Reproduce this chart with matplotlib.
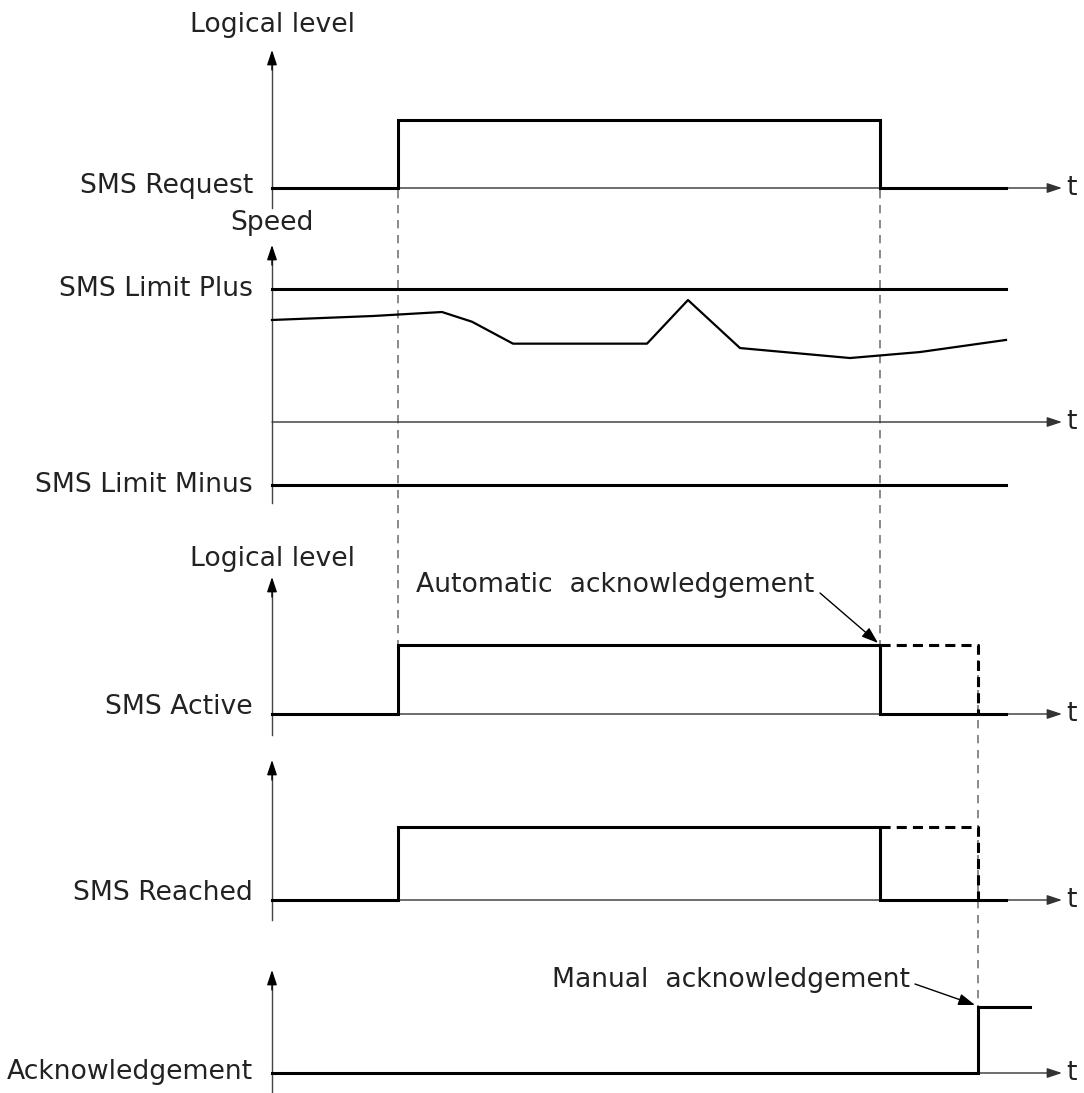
import numpy as np
import matplotlib
matplotlib.use("Agg")
import matplotlib.pyplot as plt

# ---- signal data (time in diagram units, level 0/1) ----
t_request = [272, 398, 398, 880, 880, 1006]
lvl_request = [0, 0, 1, 1, 0, 0]

t_active = [272, 398, 398, 880, 880, 1006]
lvl_active = [0, 0, 1, 1, 0, 0]
t_active_manual = [880, 978, 978]      # dashed: stays active until manual ack
lvl_active_manual = [1, 1, 0]

t_reached = [272, 398, 398, 880, 880, 1006]
lvl_reached = [0, 0, 1, 1, 0, 0]
t_reached_manual = [880, 978, 978]
lvl_reached_manual = [1, 1, 0]

t_ack = [272, 978, 978, 1030]
lvl_ack = [0, 0, 1, 1]

# speed profile (limit plus = 100)
t_speed = [272, 373, 442, 472, 513, 647, 688, 740, 850, 920, 1006]
v_speed = [76.7, 79.7, 82.7, 75.4, 58.9, 58.9, 91.7, 55.6, 48.1, 52.6, 61.7]
limit_plus = 100
limit_minus = -47.4

t_marks = [398, 880]   # request on / off
t_manual = 978

labels = ["SMS Request", "SMS Limit Plus", "SMS Limit Minus", "SMS Active",
          "SMS Reached", "Acknowledgement"]

# ---- layout (pixels) ----
W, H = 1084, 1093
x0, x_end, x_arrow = 272, 1006, 1062
base = {"req": 188, "speed": 422, "act": 714, "rch": 900, "ack": 1073}
high = {"req": 68, "act": 69, "rch": 73, "ack": 66}
speed_scale = 1.33
yaxes = [(50, 208), (245, 503), (577, 735), (760, 920), (970, 1093)]

plt.rcParams['font.family'] = ['DejaVu Sans']
fig = plt.figure(figsize=(W / 100, H / 100), dpi=100)
ax = fig.add_axes([0, 0, 1, 1])
ax.set_xlim(0, W)
ax.set_ylim(H, 0)
ax.axis('off')

sig_kw = dict(color='black', lw=2.2, solid_joinstyle='miter', zorder=3)
dash_kw = dict(color='black', lw=2.2, linestyle=(0, (3.3, 2)), zorder=3)
guide_kw = dict(color='#777777', lw=1.2, linestyle=(0, (5, 4)), zorder=1)
txt_kw = dict(fontsize=19.2, color='#222222')


def logic_y(levels, key):
    return base[key] - np.array(levels) * high[key]


def speed_y(v):
    return base["speed"] - np.array(v) * speed_scale


# y axes with arrow heads
for top, bottom in yaxes:
    ax.plot([x0, x0], [bottom, top + 10], color='#444444', lw=1.0, zorder=2)
    ax.annotate('', xy=(x0, top), xytext=(x0, top + 20),
                arrowprops=dict(arrowstyle='-|>,head_length=9,head_width=3',
                                mutation_scale=1, color='black', lw=1.0,
                                shrinkA=0, shrinkB=0))

# time axes
for key in ["req", "speed", "act", "rch", "ack"]:
    y = base[key]
    ax.annotate('', xy=(x_arrow, y), xytext=(x0, y),
                arrowprops=dict(arrowstyle='-|>,head_length=9,head_width=3',
                                mutation_scale=1, color='#333333', lw=1.0,
                                shrinkA=0, shrinkB=0), zorder=2)
    ax.text(x_arrow + 4, y, "t", ha='left', va='center', **txt_kw)

# guide lines
for t in t_marks:
    ax.plot([t, t], [base["req"] + 2, base["act"] - high["act"]], **guide_kw)
ax.plot([t_manual, t_manual], [base["act"] - high["act"], base["ack"] - high["ack"]], **guide_kw)

# signals
ax.plot(t_request, logic_y(lvl_request, "req"), **sig_kw)
ax.plot([x0, x_end], speed_y([limit_plus] * 2), **sig_kw)
ax.plot([x0, x_end], speed_y([limit_minus] * 2), **sig_kw)
ax.plot(t_speed, speed_y(v_speed), color='black', lw=1.6, zorder=3)
ax.plot(t_active, logic_y(lvl_active, "act"), **sig_kw)
ax.plot(t_active_manual, logic_y(lvl_active_manual, "act"), **dash_kw)
ax.plot(t_reached, logic_y(lvl_reached, "rch"), **sig_kw)
ax.plot(t_reached_manual, logic_y(lvl_reached_manual, "rch"), **dash_kw)
ax.plot(t_ack, logic_y(lvl_ack, "ack"), **sig_kw)

# labels
lx = 253
ax.text(272, 25, "Logical level", ha='center', va='center', **txt_kw)
ax.text(230, 223, "Speed", ha='left', va='center', **txt_kw)
ax.text(272, 559, "Logical level", ha='center', va='center', **txt_kw)
label_y = [186, 289, 485, 707, 893, 1072]
for lab, y in zip(labels, label_y):
    ax.text(lx, y, lab, ha='right', va='center', **txt_kw)

# annotations
ann_arrow = dict(arrowstyle='-|>,head_length=10,head_width=3.5', mutation_scale=1,
                 color='black', lw=1.0, shrinkA=0, shrinkB=0)
ax.text(814, 585, "Automatic  acknowledgement", ha='right', va='center', **txt_kw)
ax.annotate('', xy=(878, 643), xytext=(820, 593), arrowprops=ann_arrow)
ax.text(910, 980, "Manual  acknowledgement", ha='right', va='center', **txt_kw)
ax.annotate('', xy=(975, 1005), xytext=(915, 984), arrowprops=ann_arrow)

fig.savefig("out.png", dpi=100)
